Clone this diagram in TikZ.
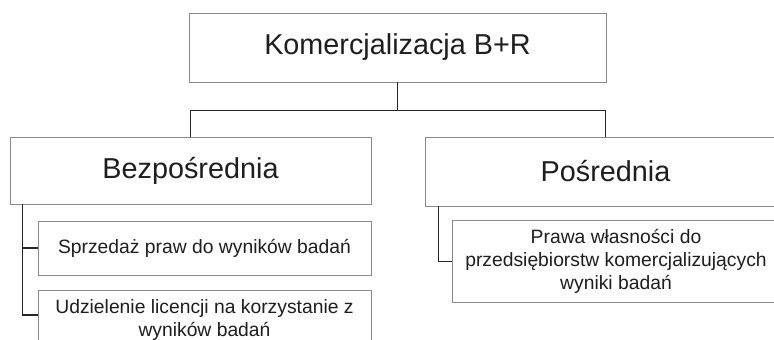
\documentclass[tikz,border=0pt]{standalone}
\usepackage{fontspec}
\setmainfont{Liberation Sans}
\usetikzlibrary{calc}
\definecolor{boxline}{HTML}{8A8A8A}
\definecolor{conn}{HTML}{262626}
\definecolor{txt}{HTML}{1E1E1E}
\begin{document}
\begin{tikzpicture}[x=1pt,y=-1pt,
  box/.style={draw=boxline, line width=0.9pt, rectangle, fill=white, inner sep=0pt, align=center, text=txt},
  bigtxt/.style={font=\fontsize{28.8}{34}\selectfont},
  smalltxt/.style={font=\fontsize{19.3}{23.3}\selectfont},
  link/.style={draw=conn, line width=1.7pt}]
\useasboundingbox (0,0) rectangle (774,340);
\clip (0,0) rectangle (774,340);
\node[box, bigtxt, minimum width=417pt, minimum height=69pt] (top) at (397.5,47.5) {Komercjalizacja B+R};
\node[box, bigtxt, minimum width=361pt, minimum height=67pt] (bez) at (190.5,170.5) {Bezpośrednia};
\node[box, bigtxt, minimum width=361pt, minimum height=69pt] (pos) at (605.5,171.5) {Pośrednia};
\node[box, smalltxt, minimum width=333pt, minimum height=54pt] (s1) at (204.5,248) {Sprzedaż praw do wyników badań};
\node[box, smalltxt, minimum width=333pt, minimum height=60pt] (s2) at (204.5,320) {Udzielenie licencji na korzystanie z\\wyników badań};
\node[box, smalltxt, minimum width=328pt, minimum height=82pt] (p1) at (616,261.5) {Prawa własności do\\przedsiębiorstw komercjalizujących\\wyniki badań};
\draw[link] (top.south) -- ++(0,28) coordinate (mid);
\draw[link] (bez.north) |- (mid) -| (pos.north);
\draw[link] ($(bez.south west)+(13,0)$) coordinate (bl) |- ($(s2.west)+(0,-5)$);
\draw[link] (bl |- s1.west) -- (s1.west);
\draw[link] ($(pos.south west)+(14,0)$) |- (p1.west);
\end{tikzpicture}
\end{document}
